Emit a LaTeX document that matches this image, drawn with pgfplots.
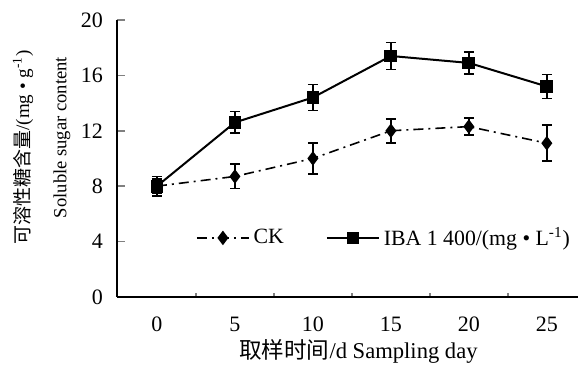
\documentclass[border=0pt]{standalone}
\usepackage{fontspec}
\setmainfont{Liberation Serif}
\newfontfamily\cjk{Noto Sans CJK SC}
\usepackage{pgfplots}
\pgfplotsset{compat=1.18}
\begin{document}
\fontsize{11}{13}\selectfont
\begin{tikzpicture}
\begin{axis}[
  x=39pt, y=6.925pt,
  xmin=-0.517, xmax=5.4, ymin=0, ymax=20,
  axis x line*=bottom, axis y line*=left,
  axis line style={line width=1pt, -},
  xtick={0,...,5}, xticklabels={0,5,10,15,20,25},
  minor xtick={0.5,1.5,2.5,3.5,4.5},
  every major x tick/.append style={draw=none},
  minor tick length=2pt, major tick length=4pt,
  tick align=inside,
  tick style={line width=0.8pt},
  ytick={0,4,...,20},
  /pgf/number format/assume math mode=true,
  tick label style={font=\fontsize{11}{13}\selectfont},
  xticklabel style={yshift=-6pt},
  yticklabel style={xshift=-3pt},
  clip=false,
  legend columns=-1,
  legend style={draw=none, fill=none, at={(axis cs:0.42,4.26)}, anchor=west,
    font=\fontsize{10.9}{13}\selectfont,
    /tikz/every even column/.append style={column sep=19pt}},
  legend image code/.code={\draw[mark repeat=2, mark phase=2, #1] plot coordinates {(0pt,0pt) (13pt,0pt) (26pt,0pt)};},
]
\addplot[black, line width=0.8pt, dash pattern=on 5pt off 2.5pt on 1pt off 2.5pt,
  mark=diamond*, mark size=3pt, mark options={solid},
  error bars/.cd, y dir=both, y explicit,
  error bar style={solid, line width=0.9pt},
  error mark options={rotate=90, mark size=2.5pt, line width=0.9pt, solid}]
  coordinates {
  (0,8.0) +- (0,0.5)
  (1,8.7) +- (0,0.87)
  (2,10.0) +- (0,1.12)
  (3,12.0) +- (0,0.87)
  (4,12.3) +- (0,0.61)
  (5,11.1) +- (0,1.3)
  };
\addlegendentry{CK}
\addplot[black, line width=1pt, mark=square*, mark size=2.7pt, mark options={solid},
  error bars/.cd, y dir=both, y explicit,
  error bar style={solid, line width=0.9pt},
  error mark options={rotate=90, mark size=2.5pt, line width=0.9pt, solid}]
  coordinates {
  (0,8.0) +- (0,0.69)
  (1,12.6) +- (0,0.79)
  (2,14.4) +- (0,0.94)
  (3,17.4) +- (0,0.97)
  (4,16.9) +- (0,0.79)
  (5,15.2) +- (0,0.87)
  };
\addlegendentry{IBA 1 400/(mg • L\textsuperscript{-1})}
\coordinate (ll) at (rel axis cs:0,0);
\coordinate (ur) at (rel axis cs:1,1);
\end{axis}
\coordinate (O) at ([xshift=-58.35pt,yshift=-34pt]ll);
\path (O) ++(11.5pt,108.75pt) node[rotate=90, font=\fontsize{9.5}{11}\selectfont] {{\cjk 可溶性糖含量}/(mg • g\textsuperscript{-1})};
\path (O) ++(31pt,113.75pt) node[rotate=90, font=\fontsize{9.3}{11}\selectfont] {Soluble sugar content};
\path (O) ++(179.25pt,6.8pt) node[font=\fontsize{11.3}{13}\selectfont] {{\cjk 取样时间}/d Sampling day};
\pgfresetboundingbox
\path[use as bounding box] (O) rectangle ([yshift=10pt]ur);
\end{tikzpicture}
\end{document}
